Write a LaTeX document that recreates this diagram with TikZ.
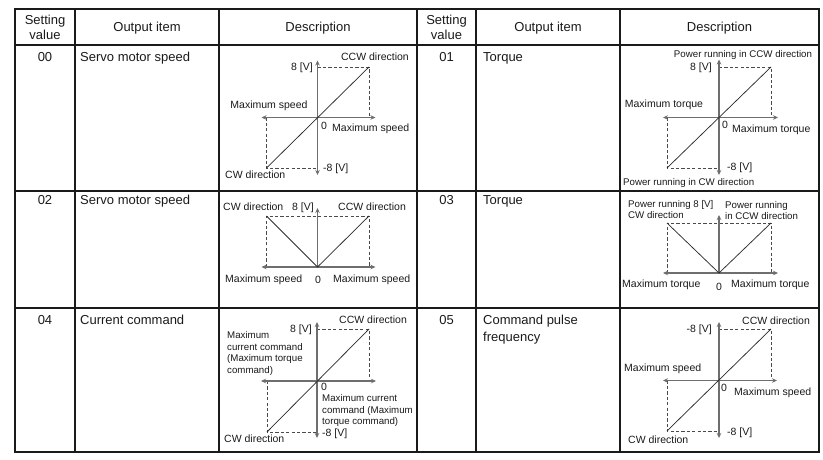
\documentclass[tikz,border=0pt]{standalone}
\usepackage{fontspec}
\setmainfont{Liberation Sans}
\usetikzlibrary{arrows.meta}
\definecolor{ink}{HTML}{1A1A1A}
\definecolor{axisc}{HTML}{6E6E6E}
\definecolor{dashc}{HTML}{4A4A4A}
\definecolor{diagc}{HTML}{2E2E2E}
\begin{document}
\begin{tikzpicture}[x=1pt,y=-1pt,
  body/.style={font=\fontsize{13}{15}\selectfont, text=ink, inner sep=0pt, text height=9.4pt, text depth=0pt},
  lbl/.style={font=\fontsize{10.5}{12}\selectfont, text=ink, inner sep=0pt, text height=7.6pt, text depth=0pt},
  slbl/.style={font=\fontsize{9.7}{11}\selectfont, text=ink, inner sep=0pt, text height=7pt, text depth=0pt},
  mlbl/.style={font=\fontsize{9.7}{11.6}\selectfont, text=ink, inner sep=0pt, align=left},
  axis/.style={draw=axisc, line width=1.1pt, {Stealth[length=5pt,width=4.5pt]}-{Stealth[length=5pt,width=4.5pt]}},
  axisup/.style={draw=axisc, line width=1.1pt, -{Stealth[length=5pt,width=4.5pt]}},
  guide/.style={draw=dashc, line width=0.8pt, dash pattern=on 3.2pt off 2.2pt},
  curve/.style={draw=diagc, line width=0.75pt},
  outer/.style={draw=ink, line width=2pt},
  grid/.style={draw=ink, line width=1.5pt}]
\useasboundingbox[fill=white] (0,0) rectangle (823,460);

% ---------- table ----------
\foreach \yy in {45,191,308} \draw[grid] (15,\yy) -- (819,\yy);
\foreach \xx in {75,219,417,476,620} \draw[grid] (\xx,9) -- (\xx,452);
\draw[outer] (15,9) rectangle (819,452);

% header
\node[body] (h1a) at (45,20) {Setting};
\node[body] (h1b) at (45,35) {value};
\node[body] (h2) at (147,27) {Output item};
\node[body] (h3) at (318,27) {Description};
\node[body] (h4a) at (446.5,20) {Setting};
\node[body] (h4b) at (446.5,35) {value};
\node[body] (h5) at (548,27) {Output item};
\node[body] (h6) at (719.5,27) {Description};

% rows
\node[body] (v00) at (45,57) {00};
\node[body,anchor=west] (o00) at (80,57) {Servo motor speed};
\node[body] (v01) at (446.5,57) {01};
\node[body,anchor=west] (o01) at (483,57) {Torque};
\node[body] (v02) at (45,200) {02};
\node[body,anchor=west] (o02) at (80,200) {Servo motor speed};
\node[body] (v03) at (446.5,200) {03};
\node[body,anchor=west] (o03) at (483,200) {Torque};
\node[body] (v04) at (45,320) {04};
\node[body,anchor=west] (o04) at (80,320) {Current command};
\node[body] (v05) at (446.5,320) {05};
\node[body,anchor=west] (o05a) at (483,320) {Command pulse};
\node[body,anchor=west] (o05b) at (483,337) {frequency};

% ---------- graph 00 ----------
\begin{scope}[shift={(317.5,117.5)}]
  \draw[guide] (0,-50.5) -- (51.5,-50.5) -- (51.5,0);
  \draw[guide] (-51,0) -- (-51,50.5) -- (0,50.5);
  \draw[axis] (-56,0) -- (58,0);
  \draw[axis] (0,-57) -- (0,57.5);
  \draw[curve] (-51,50.5) -- (51.5,-50.5);
\end{scope}
\node[lbl,anchor=east] (a1) at (313,67) {8 [V]};
\node[lbl] (a2) at (375,57) {CCW direction};
\node[lbl] (a3) at (269,105) {Maximum speed};
\node[lbl] (a4) at (324,126) {0};
\node[lbl,anchor=west] (a5) at (332,128) {Maximum speed};
\node[lbl,anchor=west] (a6) at (323,168) {-8 [V]};
\node[lbl,anchor=west] (a7) at (225,175) {CW direction};

% ---------- graph 01 ----------
\begin{scope}[shift={(719,117.5)}]
  \draw[guide] (0,-50.5) -- (52,-50.5) -- (52,0);
  \draw[guide] (-52,0) -- (-52,50.5) -- (0,50.5);
  \draw[axis] (-56,0) -- (59,0);
  \draw[axis] (0,-58) -- (0,57.5);
  \draw[curve] (-52,50.5) -- (52,-50.5);
\end{scope}
\node[slbl] (b1) at (743,54) {Power running in CCW direction};
\node[lbl,anchor=east] (b2) at (712,67) {8 [V]};
\node[lbl] (b3) at (664,104) {Maximum torque};
\node[lbl] (b4) at (725,125) {0};
\node[lbl,anchor=west] (b5) at (732,129) {Maximum torque};
\node[lbl,anchor=west] (b6) at (727,167) {-8 [V]};
\node[slbl,anchor=west] (b7) at (623,182) {Power running in CW direction};

% ---------- graph 02 ----------
\begin{scope}[shift={(317.5,267)}]
  \draw[guide] (-51,0) -- (-51,-51) -- (51.5,-51) -- (51.5,0);
  \draw[axis] (-56,0) -- (58,0);
  \draw[axisup] (0,0) -- (0,-59);
  \draw[curve] (-51,-51) -- (0,0) -- (51.5,-51);
\end{scope}
\node[lbl,anchor=west] (c1) at (223,207) {CW direction};
\node[lbl,anchor=west] (c2) at (292,207) {8 [V]};
\node[lbl,anchor=west] (c3) at (338,207) {CCW direction};
\node[lbl,anchor=west] (c4) at (225,279) {Maximum speed};
\node[lbl] (c5) at (318,280) {0};
\node[lbl,anchor=west] (c6) at (333,279) {Maximum speed};

% ---------- graph 03 ----------
\begin{scope}[shift={(719,273)}]
  \draw[guide] (-52,0) -- (-52,-50) -- (52,-50) -- (52,0);
  \draw[axis] (-56,0) -- (59,0);
  \draw[axisup] (0,0) -- (0,-58);
  \draw[curve] (-52,-50) -- (0,0) -- (52,-50);
\end{scope}
\node[slbl,anchor=west] (d1) at (628,204) {Power running 8 [V]};
\node[slbl,anchor=west] (d2) at (628,215) {CW direction};
\node[slbl,anchor=west] (d3) at (725,205) {Power running};
\node[slbl,anchor=west] (d4) at (725,216) {in CCW direction};
\node[lbl,anchor=west] (d5) at (622,284) {Maximum torque};
\node[lbl] (d6) at (719,287) {0};
\node[lbl,anchor=west] (d7) at (731,284) {Maximum torque};

% ---------- graph 04 ----------
\begin{scope}[shift={(317,381)}]
  \draw[guide] (0,-52) -- (52,-52) -- (52,0);
  \draw[guide] (-50,0) -- (-50,51) -- (0,51);
  \draw[axis] (-56,0) -- (59,0);
  \draw[axis] (0,-59) -- (0,57);
  \draw[curve] (-50,51) -- (52,-52);
\end{scope}
\node[lbl,anchor=east] (e1) at (312,329) {8 [V]};
\node[lbl,anchor=west] (e2) at (339,320) {CCW direction};
\node[mlbl,anchor=north west] (e3) at (227,331.5) {Maximum\\current command\\(Maximum torque\\command)};
\node[lbl,anchor=west] (e4) at (321,387) {0};
\node[mlbl,anchor=north west] (e5) at (322,394.5) {Maximum current\\command (Maximum\\torque command)};
\node[lbl,anchor=west] (e6) at (322,433) {-8 [V]};
\node[lbl,anchor=west] (e7) at (224,439) {CW direction};

% ---------- graph 05 ----------
\begin{scope}[shift={(719,380.5)}]
  \draw[guide] (0,-51.5) -- (52,-51.5) -- (52,0);
  \draw[guide] (-52,0) -- (-52,50.5) -- (0,50.5);
  \draw[axis] (-56,0) -- (58,0);
  \draw[axis] (0,-58.5) -- (0,57.5);
  \draw[curve] (-52,50.5) -- (52,-51.5);
\end{scope}
\node[lbl,anchor=east] (f1) at (712,329) {-8 [V]};
\node[lbl,anchor=west] (f2) at (742,321) {CCW direction};
\node[lbl,anchor=west] (f3) at (624,368) {Maximum speed};
\node[lbl] (f4) at (724,388) {0};
\node[lbl,anchor=west] (f5) at (734,392) {Maximum speed};
\node[lbl,anchor=west] (f6) at (727,432) {-8 [V]};
\node[lbl,anchor=west] (f7) at (628,440) {CW direction};
\end{tikzpicture}
\end{document}
